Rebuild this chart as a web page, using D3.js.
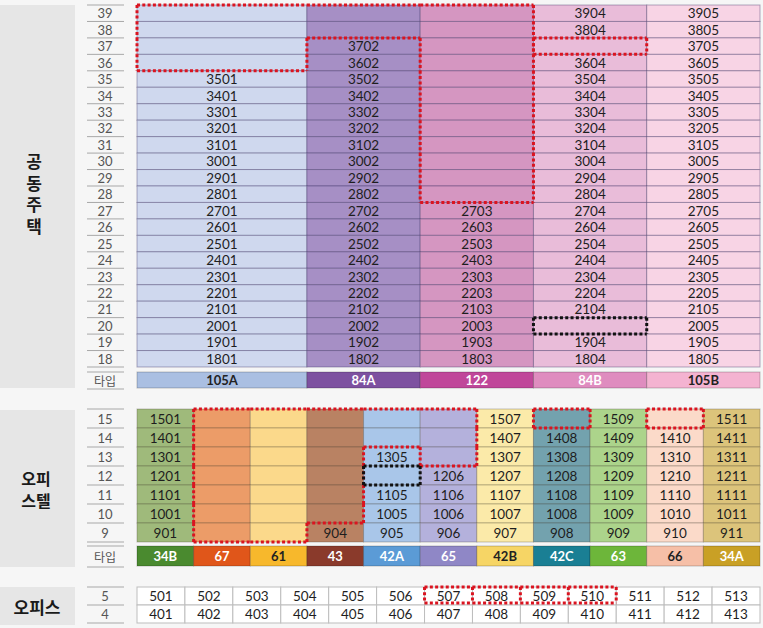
<!DOCTYPE html>
<html>
<head>
<meta charset="utf-8">
<script src="https://cdn.jsdelivr.net/npm/d3@7"></script>
<style>
  html, body { margin: 0; padding: 0; background: #f6f6f6; }
  svg { display: block; font-family: "Noto Sans CJK KR", "Noto Sans", sans-serif; }
  .num { font-family: "Lato", "Noto Sans", sans-serif; }
</style>
</head>
<body>
<svg id="chart" width="763" height="628"></svg>
<script>
// ---- 공동주택 ----
const aptFloors = [39, 38, 37, 36, 35, 34, 33, 32, 31, 30, 29, 28, 27, 26, 25, 24, 23, 22, 21, 20, 19, 18];
const aptTypes = ["105A", "84A", "122", "84B", "105B"];
const aptColWeights = [1.5, 1, 1, 1, 1];
const aptCellColors = ["#cfd8ee", "#a68fc5", "#d596c1", "#e9bcd9", "#f8d4e5"];
const aptTypeColors = ["#aabfe2", "#7d51a0", "#c0479a", "#df8cbf", "#f4b3d1"];
const aptTypeText = ["#222", "#fff", "#fff", "#fff", "#222"];
const aptUnits = [
  ["", "", "", "3904", "3905"],
  ["", "", "", "3804", "3805"],
  ["", "3702", "", "", "3705"],
  ["", "3602", "", "3604", "3605"],
  ["3501", "3502", "", "3504", "3505"],
  ["3401", "3402", "", "3404", "3405"],
  ["3301", "3302", "", "3304", "3305"],
  ["3201", "3202", "", "3204", "3205"],
  ["3101", "3102", "", "3104", "3105"],
  ["3001", "3002", "", "3004", "3005"],
  ["2901", "2902", "", "2904", "2905"],
  ["2801", "2802", "", "2804", "2805"],
  ["2701", "2702", "2703", "2704", "2705"],
  ["2601", "2602", "2603", "2604", "2605"],
  ["2501", "2502", "2503", "2504", "2505"],
  ["2401", "2402", "2403", "2404", "2405"],
  ["2301", "2302", "2303", "2304", "2305"],
  ["2201", "2202", "2203", "2204", "2205"],
  ["2101", "2102", "2103", "2104", "2105"],
  ["2001", "2002", "2003", "", "2005"],
  ["1901", "1902", "1903", "1904", "1905"],
  ["1801", "1802", "1803", "1804", "1805"]
];
// dotted outlines: [floor, column]
const aptRedA = [[39, 0], [38, 0], [37, 0], [36, 0], [39, 1], [38, 1],
  [39, 2], [38, 2], [37, 2], [36, 2], [35, 2], [34, 2], [33, 2], [32, 2], [31, 2], [30, 2], [29, 2], [28, 2]];
const aptRedB = [[37, 3]];
const aptBlack = [[20, 3]];

// ---- 오피스텔 ----
const optFloors = [15, 14, 13, 12, 11, 10, 9];
const optTypes = ["34B", "67", "61", "43", "42A", "65", "42B", "42C", "63", "66", "34A"];
const optCellColors = ["#9fba7b", "#ec9c68", "#fbd98b", "#b98263", "#a9c6e9", "#b4b1dc", "#fbeaa9", "#73a2ae", "#acd48b", "#fbdac9", "#dcc47b"];
const optTypeColors = ["#4a8a2f", "#e0561a", "#f7b82c", "#8a3a2b", "#5b9bd6", "#8f87c6", "#f6d565", "#1a7f94", "#6db63a", "#f6bfa7", "#c9a025"];
const optTypeText = ["#fff", "#fff", "#222", "#fff", "#fff", "#fff", "#222", "#fff", "#fff", "#222", "#fff"];
const optUnits = [
  ["1501", "", "", "", "", "", "1507", "", "1509", "", "1511"],
  ["1401", "", "", "", "", "", "1407", "1408", "1409", "1410", "1411"],
  ["1301", "", "", "", "1305", "", "1307", "1308", "1309", "1310", "1311"],
  ["1201", "", "", "", "", "1206", "1207", "1208", "1209", "1210", "1211"],
  ["1101", "", "", "", "1105", "1106", "1107", "1108", "1109", "1110", "1111"],
  ["1001", "", "", "", "1005", "1006", "1007", "1008", "1009", "1010", "1011"],
  ["901", "", "", "904", "905", "906", "907", "908", "909", "910", "911"]
];
const optRedA = [[15, 1], [14, 1], [13, 1], [12, 1], [11, 1], [10, 1], [9, 1],
  [15, 2], [14, 2], [13, 2], [12, 2], [11, 2], [10, 2], [9, 2],
  [15, 3], [14, 3], [13, 3], [12, 3], [11, 3], [10, 3],
  [15, 4], [14, 4], [15, 5], [14, 5], [13, 5]];
const optRedB = [[15, 7]];
const optRedC = [[15, 9]];
const optBlack = [[12, 4]];

// ---- 오피스 ----
const ofcFloors = [5, 4];
const ofcUnits = [
  ["501", "502", "503", "504", "505", "506", "507", "508", "509", "510", "511", "512", "513"],
  ["401", "402", "403", "404", "405", "406", "407", "408", "409", "410", "411", "412", "413"]
];
const ofcRed = [[5, 6], [5, 7], [5, 8], [5, 9]];

const svg = d3.select("#chart");
const gridX0 = 137, gridX1 = 760;
const RED = "#da1420", BLACK = "#111";

function colEdges(weights) {
  const cum = [0, ...d3.cumsum(weights)];
  const s = d3.scaleLinear().domain([0, cum[cum.length - 1]]).range([gridX0, gridX1]);
  return cum.map(s);
}

function drawSection(opt) {
  const g = svg.append("g");
  const edges = colEdges(opt.weights);
  const y = d3.scaleBand().domain(opt.floors).range([opt.top, opt.bottom]);
  const bw = y.bandwidth();

  // left label panel
  g.append("rect").attr("x", 0).attr("y", opt.panel[0]).attr("width", 75)
    .attr("height", opt.panel[1] - opt.panel[0]).attr("fill", "#e6e6e6");
  const cy = (opt.panel[0] + opt.panel[1]) / 2;
  if (opt.vertical) {
    g.append("text").attr("x", opt.titleX).attr("y", cy)
      .attr("writing-mode", "vertical-rl").attr("text-anchor", "middle")
      .attr("letter-spacing", opt.titleGap)
      .attr("font-size", 17).attr("font-weight", 700).attr("fill", "#1a1a1a").text(opt.title);
  } else {
    const lines = opt.title;
    g.selectAll("text.title").data(lines).join("text")
      .attr("x", opt.titleX).attr("y", (d, i) => cy + (i - (lines.length - 1) / 2) * opt.titleLh)
      .attr("text-anchor", "middle").attr("dominant-baseline", "central")
      .attr("font-size", opt.titleSize).attr("font-weight", 700).attr("fill", "#1a1a1a").text(d => d);
  }

  // floor labels
  g.selectAll("text.floor").data(opt.floors).join("text").attr("class", "num")
    .attr("x", 105).attr("y", d => y(d) + bw / 2)
    .attr("text-anchor", "middle").attr("dominant-baseline", "central")
    .attr("font-size", 13).attr("fill", "#555").text(d => d);
  const sepY = opt.floors.map(d => y(d)).concat([opt.bottom]);
  g.selectAll("line.sep").data(sepY).join("line")
    .attr("x1", 87).attr("x2", 124).attr("y1", d => d).attr("y2", d => d)
    .attr("stroke", "#a8a8a8").attr("stroke-width", 1);

  // cells
  const cells = [];
  opt.units.forEach((row, r) => row.forEach((u, c) => cells.push({ floor: opt.floors[r], c, u })));
  g.selectAll("rect.cell").data(cells).join("rect")
    .attr("x", d => edges[d.c]).attr("y", d => y(d.floor))
    .attr("width", d => edges[d.c + 1] - edges[d.c]).attr("height", bw)
    .attr("fill", d => opt.cellColors[d.c])
    .attr("stroke", opt.gridStroke).attr("stroke-width", 1);
  g.selectAll("text.unit").data(cells.filter(d => d.u)).join("text").attr("class", "num")
    .attr("x", d => (edges[d.c] + edges[d.c + 1]) / 2).attr("y", d => y(d.floor) + bw / 2)
    .attr("text-anchor", "middle").attr("dominant-baseline", "central")
    .attr("font-size", 13.5).attr("fill", "#1e1e1e").text(d => d.u);

  // type row
  if (opt.types) {
    const [t0, t1] = opt.typeRow;
    g.selectAll("rect.type").data(opt.types).join("rect")
      .attr("x", (d, i) => edges[i]).attr("y", t0)
      .attr("width", (d, i) => edges[i + 1] - edges[i]).attr("height", t1 - t0)
      .attr("fill", (d, i) => opt.typeColors[i])
      .attr("stroke", "rgba(0,0,0,0.22)").attr("stroke-width", 1);
    g.selectAll("text.type").data(opt.types).join("text").attr("class", "num")
      .attr("x", (d, i) => (edges[i] + edges[i + 1]) / 2).attr("y", (t0 + t1) / 2)
      .attr("text-anchor", "middle").attr("dominant-baseline", "central")
      .attr("font-size", 13).attr("font-weight", 700)
      .attr("fill", (d, i) => opt.typeText[i]).text(d => d);
    g.append("text").attr("x", 105).attr("y", (t0 + t1) / 2)
      .attr("text-anchor", "middle").attr("dominant-baseline", "central")
      .attr("font-size", 12).attr("fill", "#555").text("타입");
    g.selectAll("line.tsep").data([t0, t1 + 1]).join("line")
      .attr("x1", 87).attr("x2", 124).attr("y1", d => d).attr("y2", d => d)
      .attr("stroke", "#a8a8a8").attr("stroke-width", 1);
  }

  // dotted outlines around groups of cells
  const idx = new Map(opt.floors.map((f, i) => [f, i]));
  function outline(group, color, inner, inset) {
    const key = (r, c) => r + "|" + c;
    const set = new Set(group.map(([f, c]) => key(idx.get(f), c)));
    const segs = [];
    group.forEach(([f, c]) => {
      const r = idx.get(f);
      const xa = edges[c], xb = edges[c + 1], ya = y(f), yb = ya + bw - (inset || 0);
      if (!set.has(key(r - 1, c))) segs.push([xa, ya, xb, ya]);
      if (!set.has(key(r + 1, c))) segs.push([xa, yb, xb, yb]);
      if (inner || !set.has(key(r, c - 1))) segs.push([xa, ya, xa, yb]);
      if (!set.has(key(r, c + 1))) segs.push([xb, ya, xb, yb]);
    });
    g.append("g").selectAll("line").data(segs).join("line")
      .attr("x1", d => d[0]).attr("y1", d => d[1]).attr("x2", d => d[2]).attr("y2", d => d[3])
      .attr("stroke", color).attr("stroke-width", 3).attr("stroke-dasharray", "3 2.3");
  }
  (opt.red || []).forEach(grp => outline(grp, RED));
  (opt.black || []).forEach(grp => outline(grp, BLACK));
  if (opt.redInner) outline(opt.redInner, RED, true, 2);
}

drawSection({
  floors: aptFloors, units: aptUnits, weights: aptColWeights,
  top: 5, bottom: 367, panel: [5, 388],
  vertical: true, title: "공동주택", titleGap: 4.5, titleX: 34,
  cellColors: aptCellColors, gridStroke: "rgba(55,45,95,0.38)",
  types: aptTypes, typeColors: aptTypeColors, typeText: aptTypeText, typeRow: [372, 388],
  red: [aptRedA, aptRedB], black: [aptBlack]
});

drawSection({
  floors: optFloors, units: optUnits, weights: optTypes.map(() => 1),
  top: 409, bottom: 542, panel: [410, 567],
  title: ["오피", "스텔"], titleLh: 22, titleSize: 16, titleX: 36,
  cellColors: optCellColors, gridStroke: "rgba(70,60,50,0.3)",
  types: optTypes, typeColors: optTypeColors, typeText: optTypeText, typeRow: [546, 566],
  red: [optRedA, optRedB, optRedC], black: [optBlack]
});

drawSection({
  floors: ofcFloors, units: ofcUnits, weights: ofcUnits[0].map(() => 1),
  top: 587, bottom: 623, panel: [587, 625],
  title: ["오피스"], titleLh: 20, titleSize: 17, titleX: 37,
  cellColors: ofcUnits[0].map(() => "#ffffff"), gridStroke: "#bdbdbd",
  redInner: ofcRed
});
</script>
</body>
</html>
